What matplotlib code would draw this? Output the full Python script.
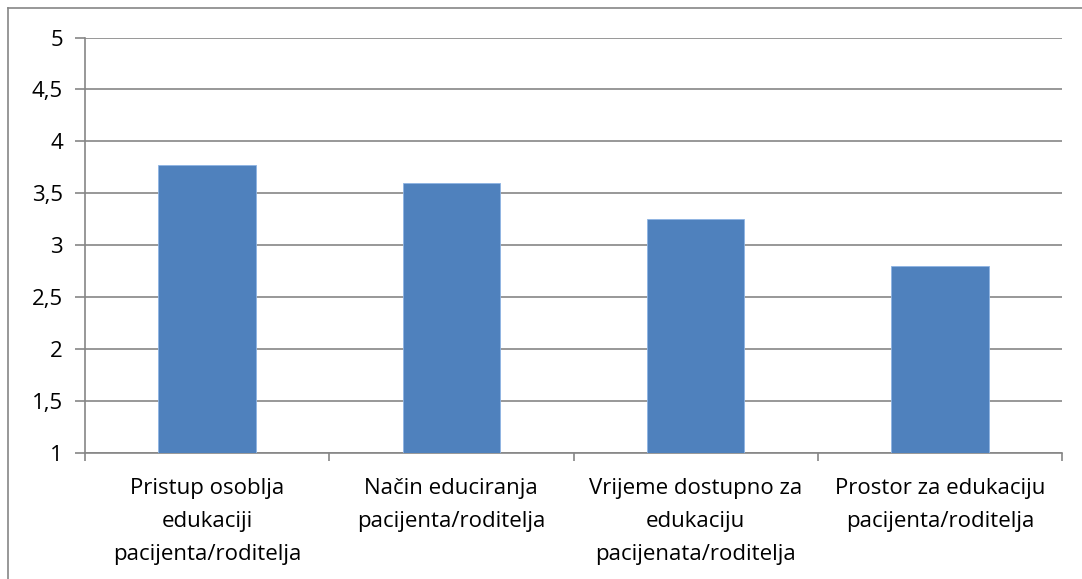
import matplotlib.pyplot as plt
from matplotlib.lines import Line2D

categories = [
    "Pristup osoblja\nedukaciji\npacijenta/roditelja",
    "Način educiranja\npacijenta/roditelja",
    "Vrijeme dostupno za\nedukaciju\npacijenata/roditelja",
    "Prostor za edukaciju\npacijenta/roditelja",
]
values = [3.77, 3.60, 3.25, 2.80]
yticks = [1, 1.5, 2, 2.5, 3, 3.5, 4, 4.5, 5]
ytick_labels = ["1", "1,5", "2", "2,5", "3", "3,5", "4", "4,5", "5"]

plt.rcParams['font.family'] = ['Open Sans', 'DejaVu Sans']

W, H = 1082, 579
fig = plt.figure(figsize=(W / 100, H / 100), dpi=100)
ax = fig.add_axes([85 / W, 1 - 453 / H, (1062 - 85) / W, (453 - 37.5) / H])

x = range(len(categories))
ax.bar(x, [v - 1 for v in values], bottom=1, width=0.4, color='#4F81BD',
       edgecolor='#8EB4E3', linewidth=0.6, zorder=3)

ax.set_xlim(-0.5, len(categories) - 0.5)
ax.set_ylim(1, 5)
ax.set_yticks(yticks)
ax.set_yticklabels(ytick_labels, fontsize=16)
ax.grid(axis='y', color='#868686', linewidth=1.2, zorder=0)

ax.set_xticks(x)
ax.set_xticklabels(categories, fontsize=16, linespacing=1.75)
ax.set_xticks([i - 0.5 for i in range(len(categories) + 1)], minor=True)
ax.tick_params(axis='x', which='major', length=0, pad=18)
ax.tick_params(axis='x', which='minor', length=6, color='#868686', width=1.2)
ax.tick_params(axis='y', length=7, color='#868686', width=1.2, pad=9)

for side in ['top', 'right']:
    ax.spines[side].set_visible(False)
for side in ['left', 'bottom']:
    ax.spines[side].set_color('#868686')
    ax.spines[side].set_linewidth(1.2)

# outer chart border (top and left only visible)
fig.add_artist(Line2D([8 / W, 1], [1 - 7.5 / H, 1 - 7.5 / H], color='#868686', linewidth=1.2,
                      transform=fig.transFigure))
fig.add_artist(Line2D([8 / W, 8 / W], [0, 1 - 7.5 / H], color='#868686', linewidth=1.2,
                      transform=fig.transFigure))

fig.savefig('out.png', dpi=100)
